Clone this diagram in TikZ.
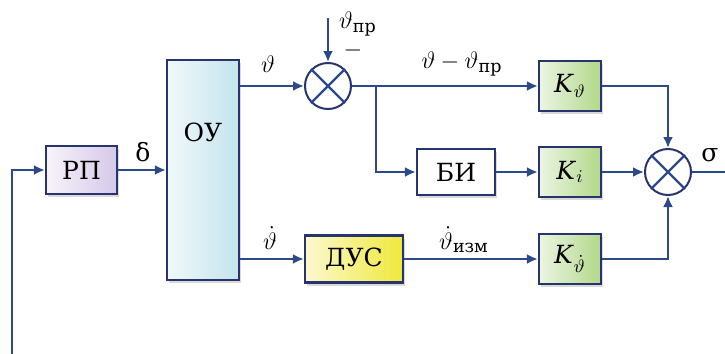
\documentclass[tikz,border=0pt]{standalone}
\usepackage{amsmath}
\usepackage{fontspec}
\setmainfont{DejaVu Serif}
\usetikzlibrary{arrows.meta,positioning,shadows}
\definecolor{linkblue}{RGB}{44,74,138}
\definecolor{edgeblue}{RGB}{40,52,112}
\definecolor{rpfill}{RGB}{214,200,232}
\definecolor{oufill}{RGB}{196,228,236}
\definecolor{dusfill}{RGB}{240,232,60}
\definecolor{kfill}{RGB}{178,216,138}

\begin{document}
\begin{tikzpicture}[
  x=0.5pt, y=-0.5pt,
  every node/.style={font=\rmfamily\fontsize{12.5}{15}\selectfont, inner sep=0pt},
  block/.style={rectangle, draw=edgeblue, line width=1.1pt,
    drop shadow={shadow xshift=1pt, shadow yshift=-1.5pt, opacity=0.3}},
  kblock/.style={block, minimum width=31pt, minimum height=25pt, left color=kfill!25, right color=kfill},
  summer/.style={circle, draw=edgeblue, line width=1pt, minimum size=23pt, fill=white},
  link/.style={draw=linkblue, line width=1.1pt},
  sig/.style={->, link, >={Latex[length=5.5pt,width=5pt]}}
]
\useasboundingbox (0,0) rectangle (725,354);

% blocks
\node[block, minimum width=35.5pt, minimum height=24pt, left color=rpfill!20, right color=rpfill] (rp) at (81.5,170) {РП};
\node[block, minimum width=36pt, minimum height=110pt, left color=oufill!25, right color=oufill] (ou) at (203,170) {};
\node at (203,132) {ОУ};
\node[summer] (s1) at (328,86) {};
\node[kblock] (kt) at (570,86) {\textit{K}$_\vartheta$};
\node[block, minimum width=39pt, minimum height=23pt, fill=white] (bi) at (456,172) {БИ};
\node[kblock] (ki) at (570,172) {\textit{K}$_i$};
\node[block, minimum width=49pt, minimum height=23.5pt, left color=dusfill!25, right color=dusfill] (dus) at (354,259) {ДУС};
\node[kblock] (kd) at (570,259) {\textit{K}$_{\dot\vartheta}$};
\node[summer] (s2) at (668,172) {};

% crosses in the summers
\foreach \s in {s1,s2} {
  \draw[link] (\s.north west) -- (\s.south east);
  \draw[link] (\s.north east) -- (\s.south west);
}

% free ends
\coordinate (fb) at (12,354);
\coordinate (ref) at (328,18);
\coordinate (br) at (376,86);
\coordinate (out) at (725,172);

% connections
\draw[sig] (fb) |- (rp.west);
\draw[sig] (rp.east) -- (rp.east -| ou.west);
\draw[sig] (ou.east |- s1) -- (s1.west);
\draw[sig] (ref) -- (s1.north);
\draw[sig] (s1.east) -- (kt.west);
\draw[sig] (br) |- (bi.west);
\draw[sig] (bi) -- (ki);
\draw[sig] (ki) -- (s2.west);
\draw[sig] (kt.east) -| (s2.north);
\draw[sig] (ou.east |- dus) -- (dus.west);
\draw[sig] (dus) -- (kd);
\draw[sig] (kd.east) -| (s2.south);
\draw[link] (s2.east) -- (out);

% labels
\node at (143,152) {δ};
\node at (268,64) {$\vartheta$};
\node at (358,24) {$\vartheta_{\text{пр}}$};
\node at (353,50) {$-$};
\node at (462,64) {$\vartheta-\vartheta_{\text{пр}}$};
\node at (710,155) {σ};
\node at (270,238) {$\dot\vartheta$};
\node at (464,240) {$\dot\vartheta_{\text{изм}}$};
\end{tikzpicture}
\end{document}
